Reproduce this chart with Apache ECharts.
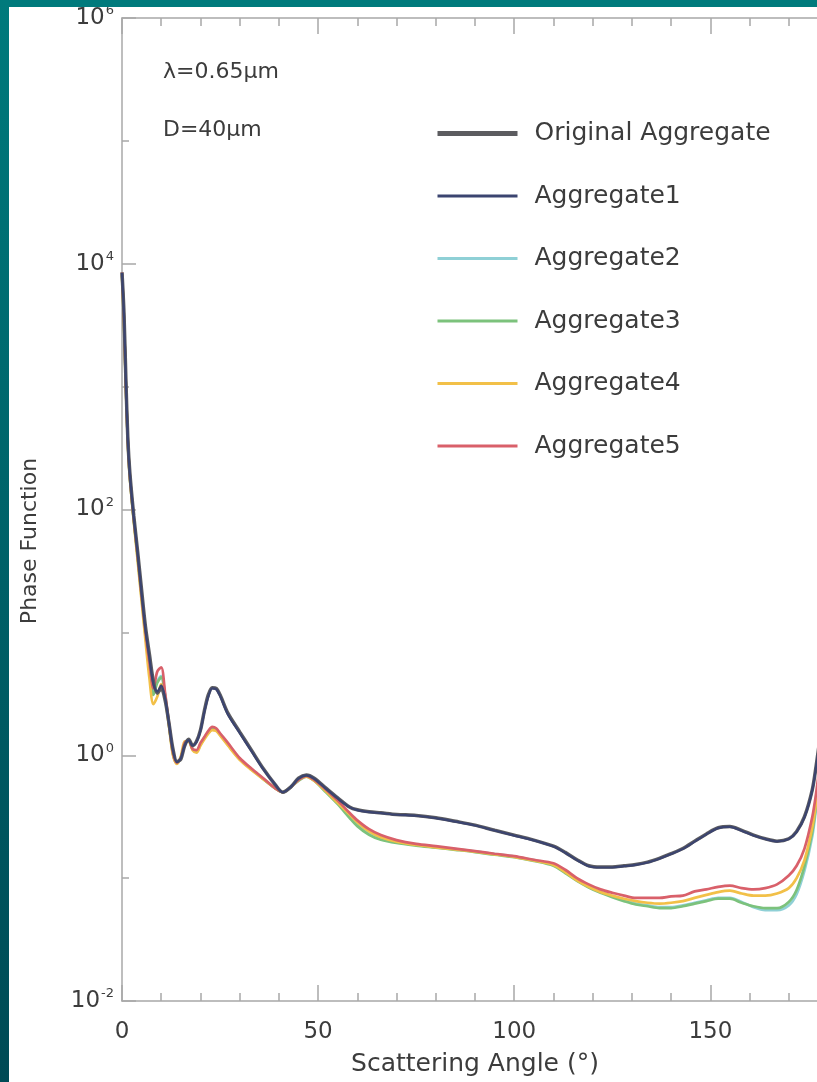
<!DOCTYPE html>
<html>
<head>
<meta charset="utf-8">
<script src="https://cdn.jsdelivr.net/npm/echarts@6/dist/echarts.min.js"></script>
<style>
html,body{margin:0;padding:0;background:#fff;overflow:hidden;width:817px;height:1082px;}
#chart{width:840px;height:1082px;}
</style>
</head>
<body>
<div id="chart"></div>
<script>
// ---- data ----
const angles = [0,0.5,1,1.5,2,3,4,5,6,7,8,9,10,11,12,13,14,15,16,17,18,19,20,21,22,23,24,25,27,30,33,36,39,41,43,45,47,49,52,55,58,60,63,66,70,75,80,85,90,95,100,105,110,113,116,119,122,125,128,131,134,137,140,143,146,149,152,155,158,161,164,167,170,172,174,176,177,178,179,180];

const originalAggregate = [8500,4000,1120,370,200,89,45,22,11,6.6,4.0,3.2,3.5,2.8,1.8,1.12,0.89,0.93,1.2,1.35,1.2,1.3,1.6,2.3,3.1,3.55,3.5,3.1,2.2,1.55,1.1,0.78,0.58,0.5,0.55,0.65,0.69,0.65,0.54,0.45,0.38,0.36,0.347,0.34,0.33,0.324,0.31,0.29,0.27,0.245,0.224,0.204,0.182,0.162,0.141,0.126,0.123,0.123,0.126,0.129,0.135,0.145,0.158,0.174,0.2,0.229,0.257,0.263,0.245,0.224,0.209,0.2,0.209,0.24,0.316,0.525,0.83,1.4,2.2,3.2];

const aggregate1 = [8400,3900,1100,365,195,87,44,21,10.5,6.2,3.8,3.3,3.7,2.9,1.8,1.1,0.88,0.94,1.2,1.33,1.2,1.28,1.58,2.25,3.0,3.5,3.45,3.05,2.15,1.52,1.08,0.77,0.58,0.5,0.55,0.645,0.685,0.645,0.535,0.445,0.378,0.358,0.345,0.338,0.328,0.322,0.308,0.288,0.268,0.244,0.222,0.203,0.181,0.161,0.14,0.125,0.122,0.122,0.125,0.128,0.134,0.144,0.157,0.173,0.198,0.227,0.255,0.261,0.243,0.222,0.208,0.199,0.208,0.238,0.312,0.52,0.82,1.38,2.15,3.1];

const aggregate2 = [8300,3500,990,352,186,83,41,19.5,9.8,5.2,3.3,4.0,4.4,3.1,1.78,1.03,0.86,0.95,1.24,1.31,1.13,1.08,1.23,1.39,1.55,1.66,1.62,1.49,1.24,0.94,0.77,0.645,0.54,0.5,0.55,0.63,0.675,0.625,0.51,0.41,0.32,0.275,0.232,0.21,0.196,0.186,0.179,0.172,0.165,0.157,0.15,0.14,0.128,0.112,0.097,0.086,0.077,0.071,0.066,0.062,0.06,0.058,0.058,0.06,0.063,0.066,0.069,0.069,0.064,0.058,0.055,0.055,0.06,0.074,0.115,0.22,0.38,0.68,1.15,1.9];

const aggregate3 = [8200,3400,980,350,185,82,40,19,9.5,5.0,3.1,3.9,4.3,3.0,1.75,1.02,0.86,0.96,1.25,1.3,1.12,1.07,1.22,1.38,1.52,1.63,1.6,1.47,1.22,0.93,0.77,0.64,0.54,0.5,0.55,0.62,0.67,0.62,0.5,0.4,0.31,0.265,0.225,0.205,0.193,0.184,0.177,0.17,0.163,0.155,0.148,0.138,0.126,0.11,0.095,0.084,0.076,0.07,0.065,0.061,0.059,0.057,0.057,0.059,0.062,0.065,0.068,0.068,0.063,0.059,0.057,0.057,0.064,0.08,0.125,0.24,0.4,0.7,1.2,2.0];

const aggregate4 = [8000,3300,950,340,180,80,38,18,8.5,4.2,2.6,3.0,3.8,2.9,1.7,1.0,0.85,0.98,1.3,1.3,1.1,1.05,1.2,1.35,1.5,1.6,1.58,1.45,1.2,0.92,0.76,0.64,0.54,0.5,0.55,0.63,0.67,0.62,0.51,0.41,0.33,0.285,0.24,0.215,0.198,0.186,0.178,0.171,0.164,0.156,0.149,0.139,0.128,0.112,0.096,0.085,0.077,0.072,0.068,0.065,0.063,0.062,0.063,0.065,0.069,0.073,0.077,0.079,0.075,0.072,0.072,0.075,0.083,0.1,0.14,0.26,0.42,0.75,1.3,2.1];

const aggregate5 = [8500,3550,1000,355,190,85,42,20,10,5.6,3.5,4.8,5.2,3.2,1.8,1.05,0.87,0.95,1.26,1.32,1.12,1.1,1.26,1.41,1.58,1.7,1.66,1.51,1.26,0.95,0.78,0.65,0.54,0.5,0.55,0.63,0.68,0.63,0.525,0.427,0.34,0.295,0.25,0.224,0.204,0.19,0.182,0.174,0.166,0.158,0.151,0.141,0.132,0.117,0.1,0.089,0.081,0.076,0.072,0.069,0.069,0.069,0.071,0.072,0.078,0.081,0.085,0.087,0.083,0.081,0.083,0.089,0.105,0.126,0.174,0.316,0.5,0.89,1.58,2.5];

const seriesNames = ['Original Aggregate','Aggregate1','Aggregate2','Aggregate3','Aggregate4','Aggregate5'];
const xTickLabels = ['0','50','100','150'];
const annotations = ['λ=0.65μm','D=40μm'];
const xTitle = 'Scattering Angle (°)';
const yTitle = 'Phase Function';

// ---- chart ----
const pair = arr => angles.map((a, i) => [a, arr[i]]);
const FONT = 'DejaVu Sans';
const TXT = '#3c3c3c';
const AX = '#a8a8a8';

const chart = echarts.init(document.getElementById('chart'), null, {renderer: 'canvas'});

function lineSeries(name, data, color, width, z) {
  return {
    name: name, type: 'line', data: pair(data), symbol: 'none', smooth: 0.3,
    lineStyle: {color: color, width: width}, itemStyle: {color: color}, z: z,
    xAxisIndex: 0, yAxisIndex: 0
  };
}

const option = {
  backgroundColor: '#ffffff',
  animation: false,
  grid: {left: 122, top: 18, right: 12, bottom: 80, containLabel: false},
  legend: {
    data: seriesNames.map((n, i) => ({name: n, lineStyle: {width: i === 0 ? 5 : 3}})),
    orient: 'vertical', left: 435, top: 121, padding: 0,
    itemWidth: 80, itemHeight: 14, itemGap: 37.5,
    itemStyle: {opacity: 0},
    textStyle: {fontSize: 25, color: TXT, fontFamily: FONT, padding: [0, 0, 0, 12]}
  },
  xAxis: [
    {type: 'value', position: 'bottom', min: 0, max: 180, interval: 50,
     axisLine: {show: true, lineStyle: {color: AX, width: 1.5}},
     axisTick: {show: true, inside: true, length: 16, lineStyle: {color: AX, width: 1.5}},
     axisLabel: {show: true, margin: 20, fontSize: 23, color: TXT, fontFamily: FONT,
       formatter: v => xTickLabels.indexOf(String(v)) >= 0 ? String(v) : ''},
     splitLine: {show: false},
     name: xTitle, nameLocation: 'middle', nameGap: 51,
     nameTextStyle: {fontSize: 25, color: TXT, fontFamily: FONT}},
    {type: 'value', position: 'bottom', min: 0, max: 180, interval: 10,
     axisLine: {show: false}, axisLabel: {show: false}, splitLine: {show: false},
     axisTick: {show: true, inside: true, length: 8, lineStyle: {color: AX, width: 1.5}}},
    {type: 'value', position: 'top', min: 0, max: 180, interval: 50,
     axisLine: {show: true, lineStyle: {color: AX, width: 1.5}}, axisLabel: {show: false}, splitLine: {show: false},
     axisTick: {show: true, inside: true, length: 16, lineStyle: {color: AX, width: 1.5}}},
    {type: 'value', position: 'top', min: 0, max: 180, interval: 10,
     axisLine: {show: false}, axisLabel: {show: false}, splitLine: {show: false},
     axisTick: {show: true, inside: true, length: 8, lineStyle: {color: AX, width: 1.5}}}
  ],
  yAxis: [
    {type: 'log', logBase: 10, min: 0.01, max: 1e6, interval: 2, position: 'left',
     axisLine: {show: true, lineStyle: {color: AX, width: 1.5}},
     axisTick: {show: true, inside: true, length: 14, lineStyle: {color: AX, width: 1.5}},
     splitLine: {show: false},
     axisLabel: {show: true, margin: 8, fontFamily: FONT, color: TXT,
       formatter: v => '{b|10}{s|' + Math.round(Math.log10(v)) + '}',
       rich: {b: {fontSize: 23, color: TXT, fontFamily: FONT},
              s: {fontSize: 13, color: TXT, fontFamily: FONT, padding: [0, 0, 14, 1]}}}},
    {type: 'log', logBase: 10, min: 0.01, max: 1e6, interval: 1, position: 'left',
     axisLine: {show: false}, axisLabel: {show: false}, splitLine: {show: false},
     axisTick: {show: true, inside: true, length: 7, lineStyle: {color: AX, width: 1.5}}}
  ],
  series: [
    lineSeries('Aggregate2', aggregate2, '#8fd0d6', 2.7, 2),
    lineSeries('Aggregate3', aggregate3, '#7cc27c', 2.7, 3),
    lineSeries('Aggregate4', aggregate4, '#f2c048', 2.7, 4),
    lineSeries('Aggregate5', aggregate5, '#d9606a', 2.7, 5),
    lineSeries('Original Aggregate', originalAggregate, '#5c5c60', 3.5, 6),
    lineSeries('Aggregate1', aggregate1, '#3b4470', 2.2, 7)
  ],
  graphic: [
    {type: 'rect', left: 0, top: 0, shape: {width: 840, height: 7},
     style: {fill: '#007a7c'}, z: 100},
    {type: 'rect', left: 0, top: 0, shape: {width: 9, height: 1082},
     style: {fill: new echarts.graphic.LinearGradient(0, 0, 0, 1, [
       {offset: 0, color: '#007a7c'}, {offset: 1, color: '#004a55'}])}, z: 100},
    {type: 'text', left: 163, top: 61, style: {text: annotations[0], fontSize: 22, fill: TXT, fontFamily: FONT}},
    {type: 'text', left: 163, top: 119, style: {text: annotations[1], fontSize: 22, fill: TXT, fontFamily: FONT}},
    {type: 'text', x: 30, y: 541, rotation: Math.PI / 2,
     style: {text: yTitle, fontSize: 22, fill: TXT, fontFamily: FONT, align: 'center', verticalAlign: 'middle'}}
  ]
};
chart.setOption(option);
</script>
</body>
</html>
